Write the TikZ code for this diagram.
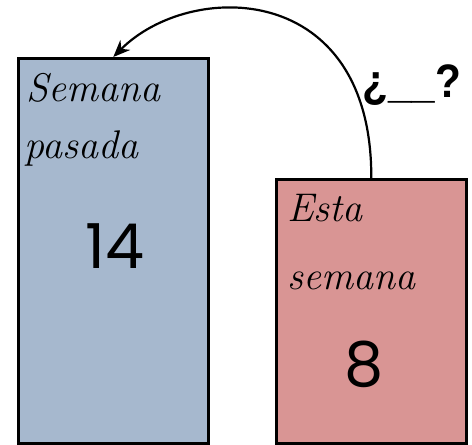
\documentclass[tikz,border=0pt]{standalone}
\usepackage{fontspec}
\usetikzlibrary{arrows.meta}
\newfontfamily\numfont{Poppins}
\newfontfamily\qfont{Liberation Sans}
\definecolor{boxblue}{HTML}{A6B8CE}
\definecolor{boxpink}{HTML}{D99594}
\tikzset{
  panel/.style={draw=black, line width=2.6pt, minimum width=190pt, inner sep=0pt, anchor=north west},
  cursive/.style={anchor=base west, inner sep=0pt, font=\fontsize{40}{44}\selectfont\itshape},
  bignum/.style={anchor=center, inner sep=0pt, font=\fontsize{62}{70}\selectfont\numfont},
  qmark/.style={anchor=base west, inner sep=0pt, transform shape, xscale=0.9, font=\fontsize{47}{51}\selectfont\qfont\bfseries},
  link/.style={line width=2.2pt, -{Stealth[length=17pt,width=14pt]}}
}
\begin{document}
\begin{tikzpicture}[x=1pt,y=-1pt]
\useasboundingbox (0,0) rectangle (472,445);
\node[panel, fill=boxblue, minimum height=385pt] (past) at (17,57) {};
\node[panel, fill=boxpink, minimum height=264pt] (now) at (275,178) {};
\node[cursive] (t1) at (26,101) {Semana};
\node[cursive] (t2) at (24,158) {pasada};
\node[bignum] (n1) at (115,246) {14};
\node[cursive] (t3) at (287,221) {Esta};
\node[cursive] (t4) at (287,289) {semana};
\node[bignum] (n2) at (364,364) {8};
\node[qmark] (q) at (362,97) {¿\char"5F\char"5F?};
\draw[link] (now.north) .. controls (372,-20) and (190,-20) .. (past.north);
\end{tikzpicture}
\end{document}
